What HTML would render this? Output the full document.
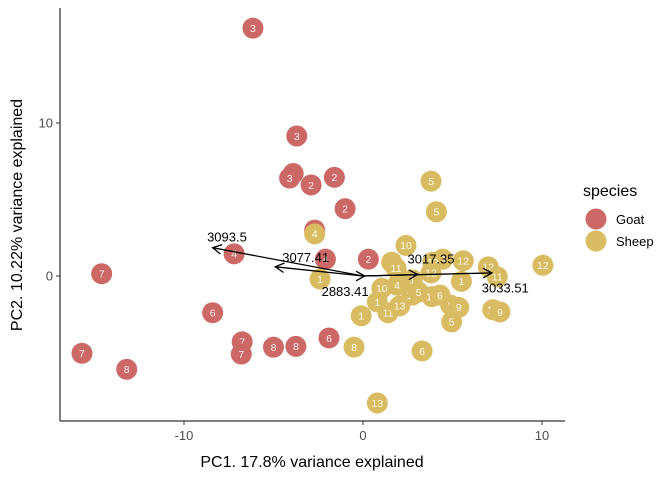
<!DOCTYPE html>
<html><head><meta charset="utf-8"><style>
body{margin:0;background:#fff;}
text{font-family:"Liberation Sans",sans-serif;}
</style></head><body>
<svg id="chart" width="672" height="480" viewBox="0 0 672 480" xmlns="http://www.w3.org/2000/svg"></svg>
<script>
const goatX=[-6.15,-3.7,-3.9,-4.1,-2.9,-1.6,-1.0,-2.7,-7.2,-2.1,0.3,-14.6,-8.4,-6.75,-6.8,-5.0,-3.75,-1.9,-15.7,-13.2];
const goatY=[16.2,9.15,6.7,6.4,5.95,6.45,4.4,3.0,1.45,1.1,1.1,0.15,-2.4,-4.3,-5.1,-4.65,-4.6,-4.05,-5.05,-6.1];
const goatLab=["3","3","3","3","2","2","2","2","4","4","2","7","6","7","7","8","8","6","7","8"];
const sheepX=[-2.7,-2.4,3.8,4.1,2.4,1.6,1.85,4.45,3.9,5.6,3.8,5.5,7.0,7.5,10.05,1.05,1.9,2.75,0.8,-0.1,1.4,2.05,2.75,3.1,3.85,4.3,4.9,5.35,4.95,7.25,7.65,-0.5,3.3,0.8];
const sheepY=[2.75,-0.2,6.2,4.2,2.0,0.9,0.5,1.1,0.9,1.0,0.2,-0.35,0.6,-0.05,0.7,-0.8,-0.6,-0.25,-1.7,-2.6,-2.4,-1.95,-1.25,-1.05,-1.35,-1.25,-1.9,-2.05,-3.0,-2.2,-2.35,-4.65,-4.9,-8.3];
const sheepLab=["4","1","5","5","10","4","11","9","12","12","12","1","12","11","12","10","4","1","1","1","11","13","10","5","12","6","9","9","5","10","9","8","6","13"];
const arrowNames=["3093.5","3077.41","2883.41","3017.35","3033.51"];
const arrowX=[-8.4,-4.9,0.1,3.05,7.2];
const arrowY=[1.85,0.6,0.0,0.1,0.2];
const arrowLabX=[-7.6,-3.2,-1.0,3.8,7.95];
const arrowLabY=[2.55,1.2,-1.0,1.1,-0.8];
const xTicks=[-10,0,10];
const yTicks=[0,10];

const svg=document.getElementById('chart');
const NS='http://www.w3.org/2000/svg';
const sx=v=>363+v*17.9;
const sy=v=>276-v*15.3;
function mk(tag,attrs,parent){const e=document.createElementNS(NS,tag);for(const k in attrs)e.setAttribute(k,attrs[k]);(parent||svg).appendChild(e);return e;}
function txt(s,attrs,parent){const e=mk('text',attrs,parent);e.textContent=s;return e;}

const gPts=mk('g',{});


function drawPts(X,Y,L,col,name){
  X.forEach((x,i)=>{
    const c=mk('circle',{cx:sx(x),cy:sy(Y[i]),r:10.5,fill:col},gPts);
    
    
    const t=txt(L[i],{x:sx(x),y:sy(Y[i])+3.8,'font-size':10.5,fill:'#fff','fill-opacity':0.9,'text-anchor':'middle'},gPts);
    
    
  });
}
drawPts(goatX,goatY,goatLab,'#CC6966','goat');
drawPts(sheepX,sheepY,sheepLab,'#D9BC62','sheep');

const gA=mk('g',{});


arrowX.forEach((ax,i)=>{
  const x0=sx(0),y0=sy(0),x1=sx(ax),y1=sy(arrowY[i]);
  const ang=Math.atan2(y1-y0,x1-x0),h=10,w=0.5;
  const l=mk('line',{x1:x0,y1:y0,x2:x1,y2:y1,stroke:'#000','stroke-width':1.3},gA);
  
  
  const p=mk('path',{d:`M${x1-h*Math.cos(ang-w)},${y1-h*Math.sin(ang-w)}L${x1},${y1}L${x1-h*Math.cos(ang+w)},${y1-h*Math.sin(ang+w)}`,stroke:'#000','stroke-width':1.3,fill:'none'},gA);
  
  
  const t=txt(arrowNames[i],{x:sx(arrowLabX[i]),y:sy(arrowLabY[i])+4.5,'font-size':13,fill:'#000','text-anchor':'middle'},gA);
  
  
});

const ax=mk('g',{});


mk('line',{x1:60,y1:8,x2:60,y2:421,stroke:'#000','stroke-width':1},ax);
mk('line',{x1:60,y1:421,x2:565,y2:421,stroke:'#000','stroke-width':1},ax);
xTicks.forEach(v=>{
  mk('line',{x1:sx(v),y1:421,x2:sx(v),y2:425,stroke:'#333'},ax);
  const t=txt(v,{x:sx(v),y:440,'font-size':13,fill:'#4d4d4d','text-anchor':'middle'},ax);
  
  
});
yTicks.forEach(v=>{
  mk('line',{x1:56,y1:sy(v),x2:60,y2:sy(v),stroke:'#333'},ax);
  const t=txt(v,{x:53,y:sy(v)+4.5,'font-size':13,fill:'#4d4d4d','text-anchor':'end'},ax);
  
  
});
</script>
<svg style="position:absolute;left:0;top:0" width="672" height="480">
<text x="312" y="467" font-size="16" text-anchor="middle" font-family="Liberation Sans,sans-serif">PC1. 17.8% variance explained</text>
<text transform="translate(22,215) rotate(-90)" font-size="16" text-anchor="middle" font-family="Liberation Sans,sans-serif">PC2. 10.22% variance explained</text>
<g font-family="Liberation Sans,sans-serif">
<text x="583" y="196" font-size="16">species</text>
<circle cx="596" cy="219" r="10.5" fill="#CC6966"/>
<text x="616" y="224" font-size="13">Goat</text>
<circle cx="596" cy="241" r="10.5" fill="#D9BC62"/>
<text x="616" y="246" font-size="13">Sheep</text>
</g>
</svg>
</body></html>
